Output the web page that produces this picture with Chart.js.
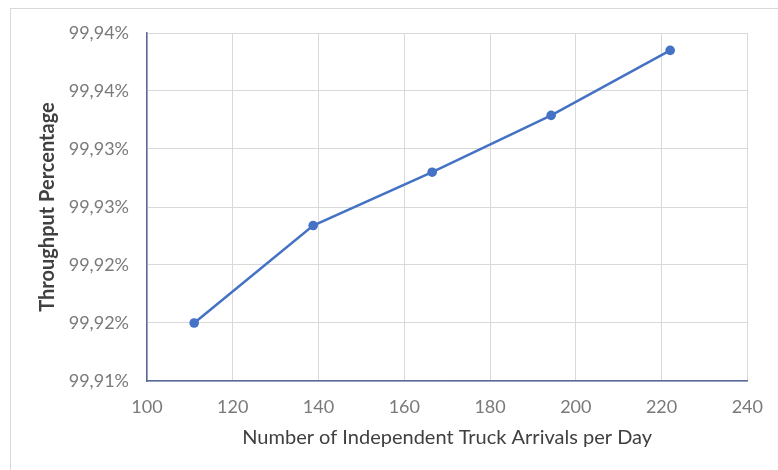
<!DOCTYPE html>
<html>
<head>
<meta charset="utf-8">
<script src="https://cdn.jsdelivr.net/npm/chart.js@4/dist/chart.umd.min.js"></script>
<style>
  html, body { margin: 0; padding: 0; background: #ffffff; }
  #wrap { position: relative; width: 778px; height: 470px; overflow: hidden; }
  #frame { position: absolute; left: 10px; top: 8px; width: 900px; height: 600px;
           border-left: 1px solid #d9d9d9; border-top: 1px solid #d9d9d9; }
  canvas { position: absolute; left: 0; top: 0; }
</style>
</head>
<body>
<div id="wrap">
  <div id="frame"></div>
  <canvas id="chart" width="778" height="470"></canvas>
</div>
<script>
// Truck arrivals per day vs. throughput (%)
const arrivals = [111, 138.75, 166.5, 194.25, 222];
const throughput = [99.9150, 99.9234, 99.9280, 99.9329, 99.9385];

// Y axis ticks and their displayed labels (two decimals, comma separator)
const yTickValues = [99.910, 99.915, 99.920, 99.925, 99.930, 99.935, 99.940];
const yTickLabels = ['99,91%', '99,92%', '99,92%', '99,93%', '99,93%', '99,94%', '99,94%'];
const xTickValues = [100, 120, 140, 160, 180, 200, 220, 240];

const FONT = 'Lato, "Open Sans", sans-serif';

new Chart(document.getElementById('chart'), {
  type: 'scatter',
  data: {
    datasets: [{
      data: arrivals.map((x, i) => ({ x: x, y: throughput[i] })),
      showLine: true,
      borderColor: '#4472C4',
      backgroundColor: '#4472C4',
      borderWidth: 2.5,
      pointRadius: 4.8,
      pointHoverRadius: 4.8,
      pointBorderWidth: 0,
      tension: 0
    }]
  },
  options: {
    responsive: false,
    animation: false,
    layout: { padding: { left: 32, top: 33, right: 26, bottom: 16 } },
    plugins: { legend: { display: false }, tooltip: { enabled: false } },
    scales: {
      x: {
        type: 'linear',
        min: 100, max: 240,
        afterBuildTicks: s => { s.ticks = xTickValues.map(v => ({ value: v })); },
        afterFit: s => { s.height = 73; },
        grid: { color: '#d9d9d9', lineWidth: 1, drawTicks: false },
        border: { color: '#5a6a98', width: 1.5 },
        ticks: { color: '#7a7a7a', font: { family: FONT, size: 18 }, padding: 15,
                 maxRotation: 0, autoSkip: false },
        title: { display: true, text: 'Number of Independent Truck Arrivals per Day',
                 color: '#404040', font: { family: FONT, size: 20 } }
      },
      y: {
        type: 'linear',
        min: 99.91, max: 99.94,
        afterBuildTicks: s => { s.ticks = yTickValues.map(v => ({ value: v })); },
        afterFit: s => { s.width = 115; },
        grid: { color: '#d9d9d9', lineWidth: 1, drawTicks: false },
        border: { color: '#5a6a98', width: 1.5 },
        ticks: { color: '#7a7a7a', font: { family: FONT, size: 18 }, padding: 18,
                 autoSkip: false,
                 callback: (v, i) => yTickLabels[i] },
        title: { display: true, text: 'Throughput Percentage',
                 color: '#404040', font: { family: FONT, size: 20, weight: 'bold' } }
      }
    }
  }
});
</script>
</body>
</html>
